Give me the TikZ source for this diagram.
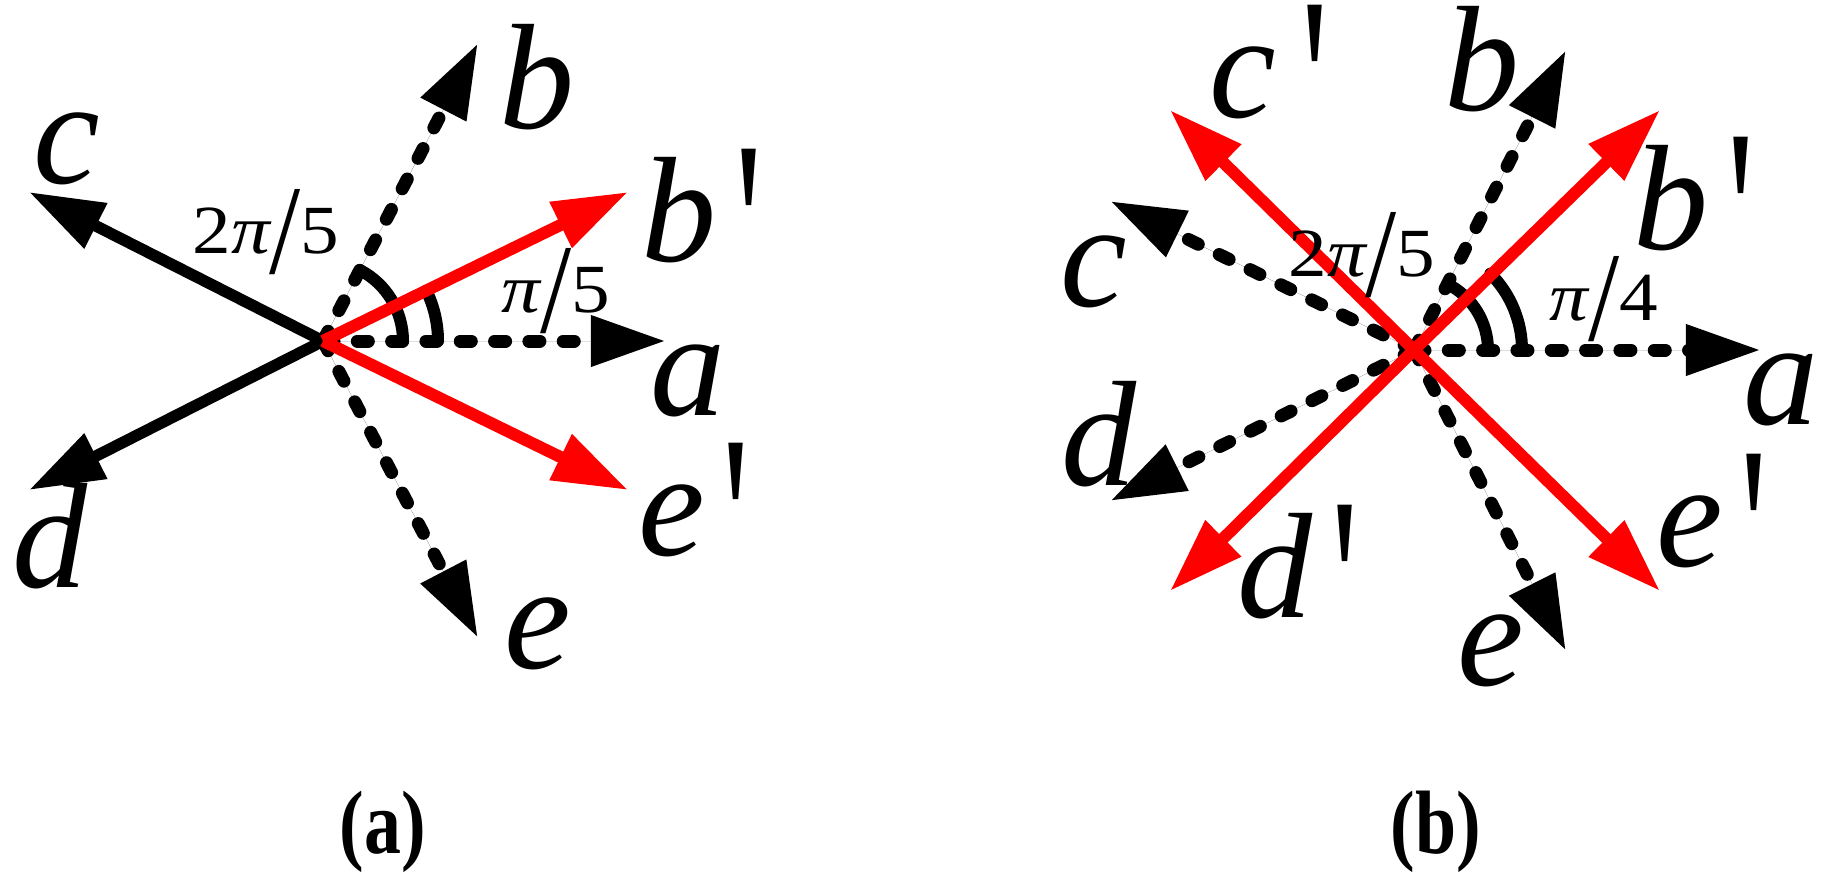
\documentclass[tikz,border=0pt]{standalone}
\usepackage{fontspec}
\usepackage{graphicx}
\setmainfont{Liberation Serif}
\usetikzlibrary{arrows.meta}
\newcommand{\myprime}[1][0.12em]{{\upshape\kern#1\raisebox{-0.3em}{\scalebox{1}[1.6]{\textquotesingle}}}}
\newcommand{\tallslash}{\raisebox{-0.29em}{\scalebox{1.45}[1.85]{/}}}
\newcommand{\anglbl}[1]{\scalebox{1.12}[1]{#1}}
\tikzset{
  tipped/.style={-{Triangle[length=0.75cm,width=0.48cm]}},
  solidarrow/.style={tipped, line width=0.115cm, draw=black, fill=black},
  redarrow/.style={tipped, line width=0.12cm, draw=red, fill=red},
  dasharrow/.style={tipped, line width=0.13cm, line cap=round, dash pattern=on 0.11cm off 0.233cm, draw=black, fill=black},
  anglearc/.style={line width=0.12cm, line cap=round},
  lbl/.style={inner sep=0pt, anchor=base, font=\itshape\fontsize{42.7}{50}\selectfont},
  ang/.style={inner sep=0pt, anchor=base, font=\fontsize{19.6}{23}\selectfont},
  captext/.style={inner sep=0pt, anchor=base, font=\bfseries\fontsize{25.6}{30}\selectfont},
}
\begin{document}
\begin{tikzpicture}[x=0.01cm,y=-0.01cm]
\useasboundingbox (0,0) rectangle (1830,878);
% ---------- panel (a) ----------
\coordinate (A0) at (323,341);
\coordinate (Aa) at (666,341);
\coordinate (Ab) at (478,43);
\coordinate (Ac) at (29,192);
\coordinate (Ad) at (29,490);
\coordinate (Ae) at (478,638);
\coordinate (Abp) at (628,192);
\coordinate (Aep) at (628,490);
\coordinate (Aarc1) at (403,341);
\coordinate (Aarc2) at (438,341);
\draw[anglearc] (Aarc1) arc[start angle=0, end angle=-62.5, radius=80];
\draw[anglearc] (Aarc2) arc[start angle=0, end angle=-26, radius=115];
\draw[dasharrow] (A0) -- (Aa);
\draw[dasharrow] (A0) -- (Ab);
\draw[dasharrow] (A0) -- (Ae);
\draw[solidarrow] (A0) -- (Ac);
\draw[solidarrow] (A0) -- (Ad);
\draw[redarrow] (A0) -- (Abp);
\draw[redarrow] (A0) -- (Aep);
\node[lbl] (la) at (688,415) {a};
\node[lbl] (lb) at (537,128) {b};
\node[lbl] (lc) at (67,183) {c};
\node[lbl] (ld) at (50,587) {d};
\node[lbl] (le) at (538,668) {e};
\node[lbl] (lbp) at (702,261) {b\myprime};
\node[lbl] (lep) at (694,555) {e\myprime};
\node[ang] (ltwo) at (266,253) {\anglbl{2{\itshape π}\tallslash 5}};
\node[ang] (lone) at (556,312) {\anglbl{{\itshape π}\tallslash 5}};
\node[captext] (capa) at (383,853) {\scalebox{0.82}[1]{(a)}};
% ---------- panel (b) ----------
\coordinate (B0) at (1414,350);
\coordinate (Ba) at (1761,350);
\coordinate (Bb) at (1566,50);
\coordinate (Bc) at (1110,201);
\coordinate (Bd) at (1110,501);
\coordinate (Be) at (1566,651);
\coordinate (Bcp) at (1170,110);
\coordinate (Bbp) at (1660,110);
\coordinate (Bdp) at (1170,591);
\coordinate (Bep) at (1660,591);
\coordinate (Barc1) at (1488,350);
\coordinate (Barc2) at (1522,350);
\draw[anglearc] (Barc1) arc[start angle=0, end angle=-63, radius=74];
\draw[anglearc] (Barc2) arc[start angle=0, end angle=-45, radius=108];
\draw[dasharrow] (B0) -- (Ba);
\draw[dasharrow] (B0) -- (Bb);
\draw[dasharrow] (B0) -- (Bc);
\draw[dasharrow] (B0) -- (Bd);
\draw[dasharrow] (B0) -- (Be);
\draw[redarrow] (B0) -- (Bcp);
\draw[redarrow] (B0) -- (Bbp);
\draw[redarrow] (B0) -- (Bdp);
\draw[redarrow] (B0) -- (Bep);
\node[lbl] (lba) at (1781,424) {a};
\node[lbl] (lbb) at (1482,110) {b};
\node[lbl] (lbc) at (1094,306) {c};
\node[lbl] (lbd) at (1099,485) {d};
\node[lbl] (lbe) at (1491,685) {e};
\node[lbl] (lbcp) at (1269,117) {c\myprime[0.17em]};
\node[lbl] (lbbp) at (1694,249) {b\myprime};
\node[lbl] (lbdp) at (1298,617) {d\myprime};
\node[lbl] (lbep) at (1712,566) {e\myprime};
\node[ang] (lbtwo) at (1362,276) {\anglbl{2{\itshape π}\tallslash 5}};
\node[ang] (lbquarter) at (1604,320) {\anglbl{{\itshape π}\tallslash 4}};
\node[captext] (capb) at (1436,853) {\scalebox{0.82}[1]{(b)}};
\end{tikzpicture}
\end{document}
